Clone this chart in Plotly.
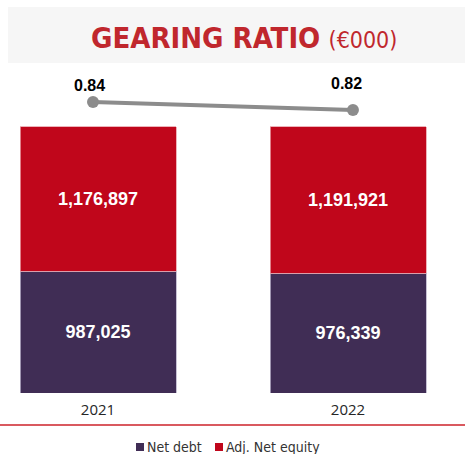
import plotly.graph_objects as go

years = ["2021", "2022"]
net_debt = [987025, 976339]
adj_net_equity = [1176897, 1191921]
gearing_ratio = [0.84, 0.82]
series_names = ["Net debt", "Adj. Net equity"]
series_colors = ["#402d55", "#c0061b"]

W, H = 465, 454
L, R, T, B = 8, 0, 70, 61
ph = H - T - B

def py(px):
    return (H - B - px) / ph

def pxx(px):
    return (px - L) / (W - L - R)

fig = go.Figure()
for vals, name, color, edge in [(net_debt, series_names[0], series_colors[0], "#b9b1c9"),
                                (adj_net_equity, series_names[1], series_colors[1], "#e8a0a8")]:
    fig.add_trace(go.Bar(
        x=years, y=vals, name=name, showlegend=False,
        marker=dict(color=color, line=dict(width=0.8, color=edge)),
        text=[f"<b>{v:,}</b>" for v in vals], textposition="inside", insidetextanchor="middle",
        textfont=dict(color="white", size=18, family="Liberation Sans"),
        texttemplate="%{text}",
        width=0.624, hoverinfo="skip",
    ))

fig.add_trace(go.Scatter(
    x=[0, 1], y=gearing_ratio, mode="lines+markers", showlegend=False,
    xaxis="x2", yaxis="y2",
    line=dict(color="#8c8c8c", width=4),
    marker=dict(color="#8c8c8c", size=12),
    hoverinfo="skip",
))

annotations = [
    dict(xref="paper", yref="paper", x=pxx(243.5), y=py(38), xanchor="center", yanchor="middle",
         showarrow=False,
         text="<b>GEARING RATIO</b> <span style='font-size:23px'>(€000)</span>",
         font=dict(size=29, color="#c0272d", family="DejaVu Sans Condensed, DejaVu Sans")),
]
label_shifts = [(-4, 17), (-6, 27)]
for i, (v, (dx, dy)) in enumerate(zip(gearing_ratio, label_shifts)):
    annotations.append(dict(xref="x2", yref="y2", x=i, y=v, xshift=dx, yshift=dy,
                            showarrow=False, xanchor="center", yanchor="middle",
                            text=f"<b>{v:.2f}</b>",
                            font=dict(color="black", size=16, family="Liberation Sans")))

shapes = [
    dict(type="rect", xref="paper", yref="paper", x0=0, x1=1, y0=py(63), y1=py(7),
         fillcolor="#f6f6f6", line=dict(width=0), layer="below"),
    dict(type="line", xref="paper", yref="paper", x0=pxx(0), x1=pxx(465), y0=py(425), y1=py(425),
         line=dict(color="#d9595f", width=2)),
]

# custom legend
leg_x = [136, 215]
for lx, name, color in zip(leg_x, series_names, series_colors):
    shapes.append(dict(type="rect", xref="paper", yref="paper",
                       x0=pxx(lx), x1=pxx(lx + 8), y0=py(451), y1=py(443),
                       fillcolor=color, line=dict(width=0)))
    annotations.append(dict(xref="paper", yref="paper", x=pxx(lx + 9), y=py(447),
                            xanchor="left", yanchor="middle", showarrow=False, text=name,
                            font=dict(size=14, color="#333333",
                                      family="DejaVu Sans Condensed, DejaVu Sans")))

hidden = dict(showgrid=False, zeroline=False, showline=False, showticklabels=False, ticks="")
fig.update_layout(
    width=W, height=H, margin=dict(l=L, r=R, t=T, b=B, autoexpand=False),
    paper_bgcolor="white", plot_bgcolor="white",
    barmode="stack", barnorm="percent",
    showlegend=False,
    xaxis=dict(type="category", range=[-0.36, 1.468], showgrid=False, zeroline=False,
               showline=False, ticks="", automargin=False,
               tickfont=dict(size=15, family="Open Sans", color="#262626"),
               ticklabelstandoff=6),
    xaxis2=dict(type="linear", overlaying="x", range=[-0.327, 1.431], **hidden),
    yaxis=dict(range=[0, 121.2], **hidden),
    yaxis2=dict(range=[0.1125, 0.92], overlaying="y", **hidden),
    shapes=shapes,
    annotations=annotations,
)

fig.write_html("out.html")
